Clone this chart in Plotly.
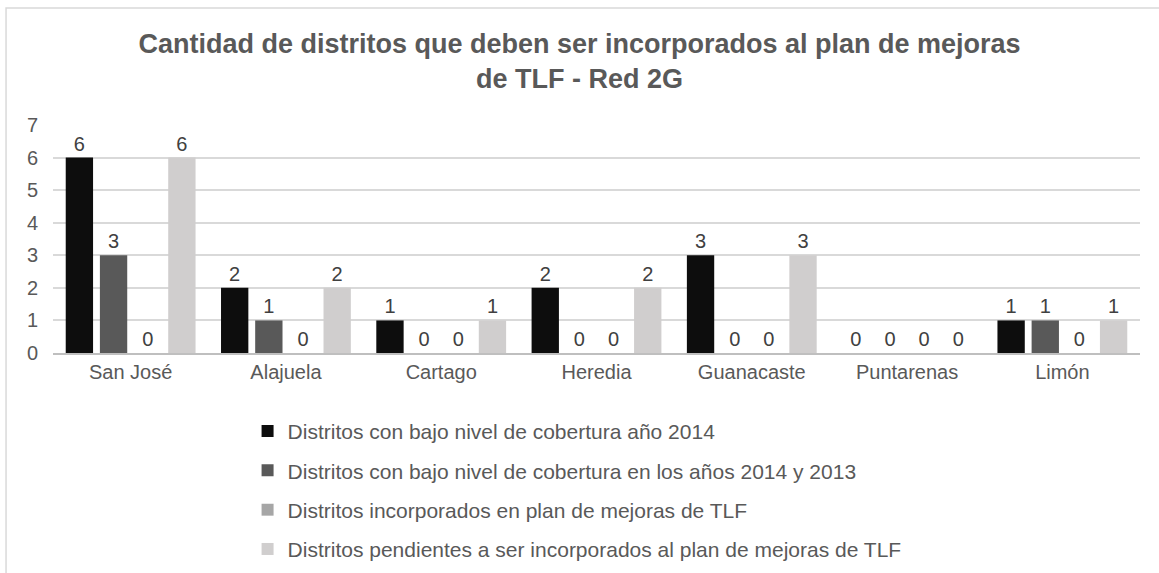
import plotly.graph_objects as go

# Provinces on the x axis
provincias = ["San José", "Alajuela", "Cartago", "Heredia", "Guanacaste", "Puntarenas", "Limón"]

# District counts per series
bajo_2014 = [6, 2, 1, 2, 3, 0, 1]
bajo_2014_2013 = [3, 1, 0, 0, 0, 0, 1]
incorporados = [0, 0, 0, 0, 0, 0, 0]
pendientes = [6, 2, 1, 2, 3, 0, 1]

series = [
    ("Distritos con bajo nivel de cobertura año 2014", bajo_2014, "#0d0d0d"),
    ("Distritos con bajo nivel de cobertura en los años 2014 y 2013", bajo_2014_2013, "#595959"),
    ("Distritos incorporados en plan de mejoras de TLF", incorporados, "#a6a6a6"),
    ("Distritos pendientes a ser incorporados al plan de mejoras de TLF", pendientes, "#d0cece"),
]

FONT = "Liberation Sans, Arial, sans-serif"
TEXT_COLOR = "#595959"

fig = go.Figure()
for i, (name, vals, color) in enumerate(series):
    fig.add_trace(go.Bar(
        name=name,
        x=provincias,
        y=vals,
        marker=dict(color=color, line=dict(width=0)),
        text=[str(v) for v in vals],
        textposition="outside",
        textfont=dict(family=FONT, size=20, color="#404040"),
        cliponaxis=False,
        legendgroup=f"g{i}",
    ))

fig.update_layout(
    width=1159,
    height=573,
    margin=dict(l=53, r=19, t=125, b=220, autoexpand=False),
    paper_bgcolor="white",
    plot_bgcolor="white",
    barmode="group",
    bargap=0.12,
    bargroupgap=0.2,
    font=dict(family=FONT, color=TEXT_COLOR),
    title=dict(
        text="<b>Cantidad de distritos que deben ser incorporados al plan de mejoras<br>de TLF - Red 2G</b>",
        font=dict(family=FONT, size=27, color=TEXT_COLOR),
        x=0.5,
        xref="container",
        xanchor="center",
        y=0.908,
        yanchor="top",
        yref="container",
    ),
    xaxis=dict(
        showgrid=False,
        showline=True,
        linecolor="#bfbfbf",
        linewidth=1.5,
        ticks="",
        tickfont=dict(family=FONT, size=20, color=TEXT_COLOR),
    ),
    yaxis=dict(
        range=[0, 7],
        dtick=1,
        showgrid=True,
        gridcolor="#d9d9d9",
        gridwidth=1.5,
        zeroline=False,
        showline=False,
        ticks="",
        tickfont=dict(family=FONT, size=20, color=TEXT_COLOR),
        ticklabelstandoff=14,
    ),
    legend=dict(
        orientation="v",
        x=0.179,
        xanchor="left",
        y=-0.254,
        yanchor="top",
        font=dict(family=FONT, size=21, color=TEXT_COLOR),
        traceorder="grouped",
        tracegroupgap=9,
        itemwidth=30,
        bgcolor="rgba(0,0,0,0)",
    ),
    shapes=[
        dict(
            type="rect", xref="paper", yref="paper",
            x0=-0.0432, x1=1.2, y0=-3, y1=1.513,
            line=dict(color="#d9d9d9", width=1.5),
            fillcolor="rgba(0,0,0,0)",
            layer="below",
        )
    ],
)

fig.write_html("out.html")
